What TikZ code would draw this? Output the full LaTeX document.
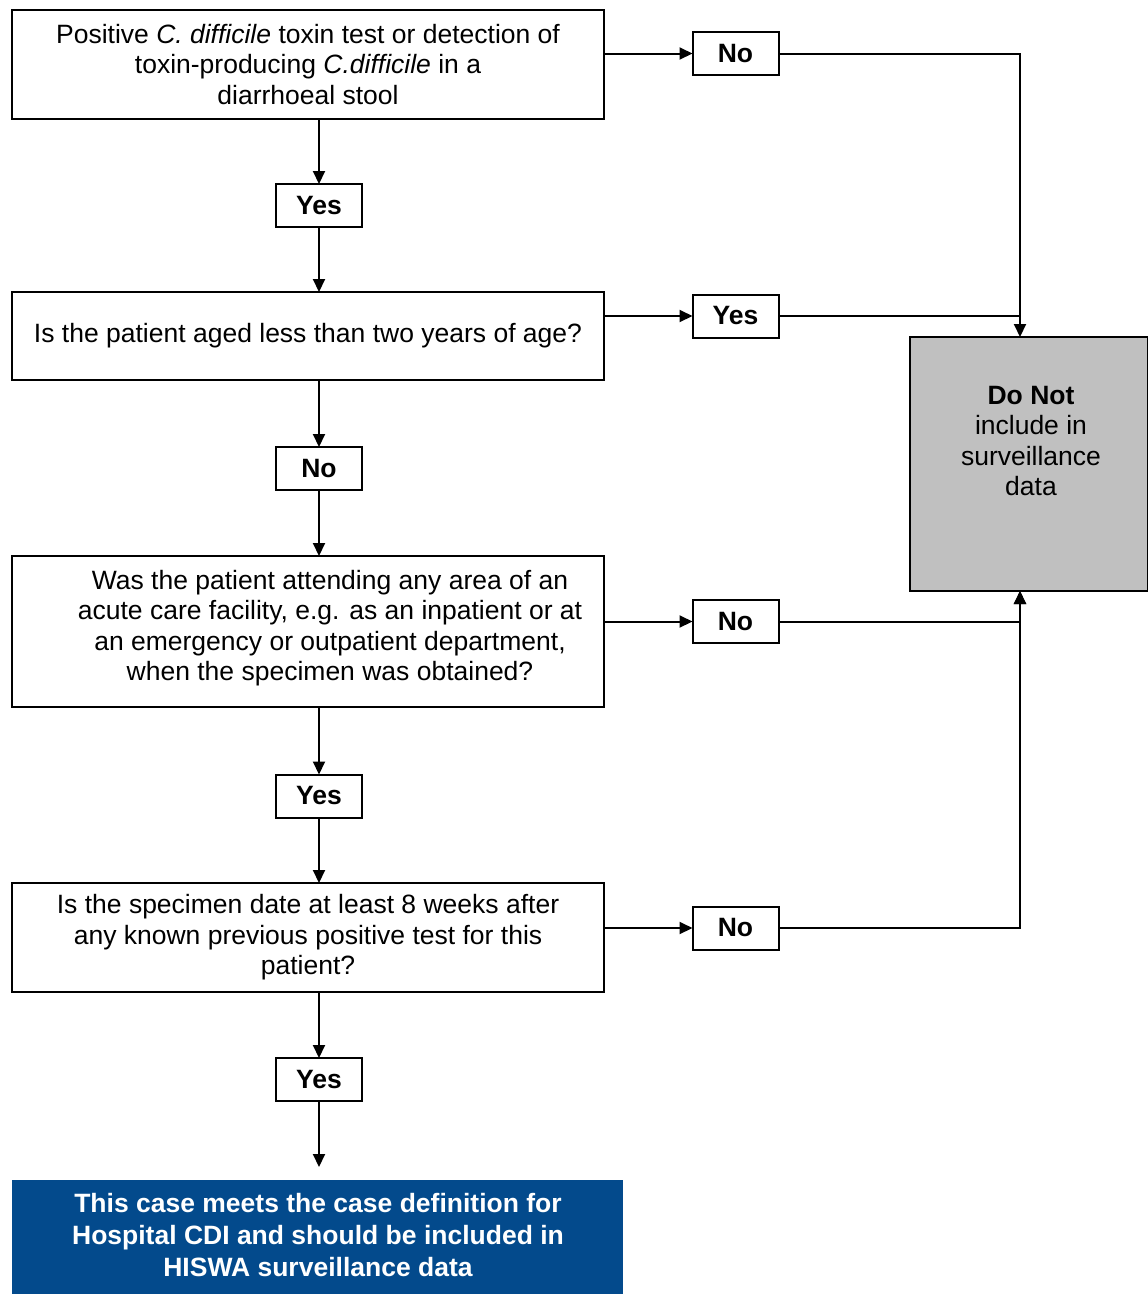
\documentclass[tikz,border=0pt]{standalone}
\usepackage{fontspec}
\setmainfont{Liberation Sans}
\usetikzlibrary{arrows.meta}
\definecolor{boxgray}{HTML}{C0C0C0}
\definecolor{navy}{HTML}{034A8C}
\begin{document}
\begin{tikzpicture}[x=1pt,y=-1pt,
  every node/.style={inner sep=0pt,outer sep=0pt},
  bodytext/.style={font=\fontsize{26.5}{30.5}\selectfont},
  question/.style={draw=black,line width=2pt,fill=white,minimum width=592pt,align=center,bodytext},
  answer/.style={draw=black,line width=2pt,fill=white,minimum width=86pt,minimum height=43pt,
    font=\fontsize{26.5}{30}\selectfont\bfseries},
  link/.style={line width=2pt},
  arrowlink/.style={line width=2pt,-{Triangle[length=13pt,width=12pt]}}]
\useasboundingbox (0,0) rectangle (1148,1294);

% question boxes
\node[question,minimum height=109pt] (q1) at (308,64.5)
  {Positive \textit{C. difficile} toxin test or detection of\\toxin-producing \textit{C.difficile} in a\\diarrhoeal stool};
\node[question,minimum height=88pt] (q2) at (308,336)
  {Is the patient aged less than two years of age?};
\node[question,minimum height=151pt] (q3) at (308,631.5) {};
\node[align=center,bodytext] at (330,628)
  {Was the patient attending any area of an\\acute care facility, e.g. as an inpatient or at\\an emergency or outpatient department,\\when the specimen was obtained?};
\node[question,minimum height=109pt] (q4) at (308,937.5)
  {Is the specimen date at least 8 weeks after\\any known previous positive test for this\\patient?};

% answer boxes
\node[answer] (no1) at (735.5,53.5) {No};
\node[answer] (yes1) at (319,205.5) {Yes};
\node[answer] (yes2) at (735.5,316) {Yes};
\node[answer] (no2) at (319,468.5) {No};
\node[answer] (no3) at (735.5,621.5) {No};
\node[answer] (yes3) at (319,796) {Yes};
\node[answer] (no4) at (735.5,928) {No};
\node[answer] (yes4) at (319,1079.5) {Yes};

% outcome boxes
\node[draw=black,line width=2pt,fill=boxgray,minimum width=238pt,minimum height=254pt] (excl) at (1029,464) {};
\node[align=center,bodytext] at (1031,441)
  {\textbf{Do Not}\\include in\\surveillance\\data};
\node[fill=navy,minimum width=611pt,minimum height=124pt] (incl) at (317.5,1242) {};
\node[align=center,text=white,font=\fontsize{26.5}{32}\selectfont\bfseries] at (318,1235)
  {This case meets the case definition for\\Hospital CDI and should be included in\\HISWA surveillance data};

% connectors
\coordinate (rail) at (1020,0);
\coordinate (end) at (319,1167);
\draw[arrowlink] (q1.south -| yes1) -- (yes1.north);
\draw[arrowlink] (yes1.south) -- (q2.north -| yes1);
\draw[arrowlink] (q2.south -| no2) -- (no2.north);
\draw[arrowlink] (no2.south) -- (q3.north -| no2);
\draw[arrowlink] (q3.south -| yes3) -- (yes3.north);
\draw[arrowlink] (yes3.south) -- (q4.north -| yes3);
\draw[arrowlink] (q4.south -| yes4) -- (yes4.north);
\draw[arrowlink] (yes4.south) -- (end);

\draw[arrowlink] (q1.east |- no1) -- (no1.west);
\draw[arrowlink] (q2.east |- yes2) -- (yes2.west);
\draw[arrowlink] (q3.east |- no3) -- (no3.west);
\draw[arrowlink] (q4.east |- no4) -- (no4.west);

\draw[arrowlink] (no1.east) -| (rail |- excl.north);
\draw[link] (yes2.east) -- (yes2.east -| rail);
\draw[arrowlink] (no3.east) -| (rail |- excl.south);
\draw[arrowlink] (no4.east) -| (rail |- excl.south);
\end{tikzpicture}
\end{document}
